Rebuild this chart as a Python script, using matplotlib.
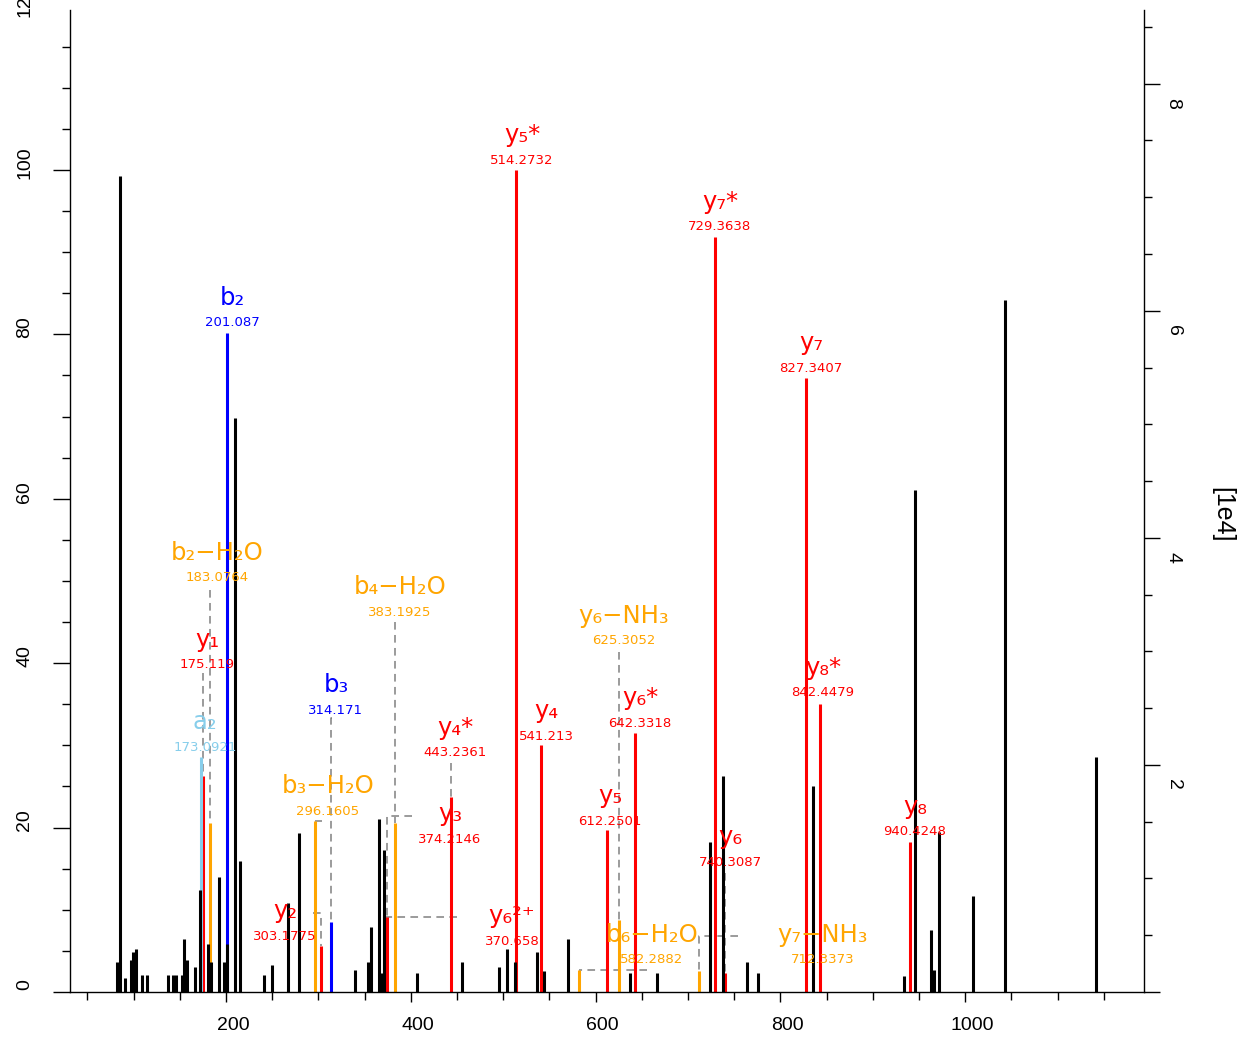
import matplotlib
matplotlib.use("Agg")
from matplotlib import pyplot as plt
from matplotlib.ticker import MultipleLocator
from matplotlib.transforms import ScaledTranslation, blended_transform_factory

# unassigned peaks: m/z and relative intensity (%)
peak_mz = [82.4, 85.3, 90.7, 96.9, 99.7, 102.3, 108.8, 114.2, 137.6, 143.0,
           145.9, 152.1, 154.5, 157.5, 166.5, 171.9, 180.8, 183.4, 192.4, 197.8,
           200.8, 209.7, 215.1, 241.1, 250.1, 267.4, 279.0, 339.6, 354.0, 356.9,
           365.6, 368.5, 371.3, 406.4, 455.1, 495.8, 504.4, 512.8, 536.3, 544.5,
           570.5, 637.2, 666.1, 723.8, 737.6, 764.2, 775.4, 835.6, 934.1, 946.0,
           962.7, 966.2, 972.0, 1008.8, 1043.1, 1141.6]
peak_int = [3.6, 99.3, 1.7, 3.9, 4.9, 5.2, 2.1, 2.1, 2.1, 2.1,
            2.1, 2.1, 6.5, 3.9, 3.0, 12.4, 5.9, 3.6, 14.0, 3.6,
            5.8, 69.8, 15.9, 2.1, 3.3, 10.8, 19.3, 2.7, 3.6, 7.9,
            21.1, 2.3, 17.3, 2.3, 3.6, 3.0, 5.2, 3.6, 4.9, 2.6,
            6.5, 2.3, 2.3, 18.2, 26.3, 3.6, 2.3, 25.1, 2.0, 61.1,
            7.5, 2.7, 19.5, 11.7, 84.2, 28.6]

# assigned fragment ions
ion_names = ["y₅*", "y₇*", "b₂", "y₇", "y₈*", "y₆*", "y₄", "y₄*", "y₃", "y₅",
             "y₆", "y₈", "y₂", "y₆²⁺", "y₁", "a₂", "b₂−H₂O", "b₄−H₂O", "b₃",
             "b₃−H₂O", "y₆−NH₃", "b₆−H₂O", "y₇−NH₃"]
ion_mz = [514.2732, 729.3638, 201.087, 827.3407, 842.4479, 642.3318, 541.213,
          443.2361, 374.2146, 612.2501, 740.3087, 940.4248, 303.1775, 370.658,
          175.119, 173.0921, 183.0764, 383.1925, 314.171, 296.1605, 625.3052,
          582.2882, 712.3373]
ion_int = [100.0, 91.8, 80.2, 74.7, 35.0, 31.5, 30.0, 23.7, 9.1, 19.7,
           2.3, 18.2, 5.6, 9.1, 26.3, 28.6, 20.5, 20.5, 8.5, 20.8,
           8.8, 2.7, 2.6]

# base peak intensity in units of 1e4 (right axis)
base_int = 7.24

# label layout: centre of the m/z text, in data units
label_x = [520.3, 734.6, 206.5, 833.1, 846.1, 648.1, 546.3, 447.8, 442.4, 615.6,
           745.5, 945.7, 263.8, 509.5, 179.4, 177.3, 190.3, 388.3, 319.0, 310.4,
           630.7, 661.0, 846.1]
label_y = [101.2, 93.1, 81.4, 75.9, 36.4, 32.7, 31.1, 29.1, 18.6, 20.8,
           15.8, 19.5, 6.8, 6.2, 39.8, 29.8, 50.4, 46.2, 34.3, 22.0,
           42.7, 3.9, 3.9]
# dashed connector: level of the horizontal leg and where it ends
conn_y = [None, None, None, None, None, None, None, 27.9, 21.4, None,
          14.5, None, 9.6, 9.1, 38.8, None, 48.9, 45.0, 33.3, 20.8,
          41.4, 2.7, 6.8]
conn_x = [None, None, None, None, None, None, None, 443.2, 401.3, None,
          740.3, None, 294.2, 450.0, 175.1, None, 183.1, 383.2, 314.2, 303.9,
          625.3, 655.6, 754.1]


def ion_color(name):
    if "−" in name:
        return "orange"
    if name.startswith("b"):
        return "blue"
    if name.startswith("a"):
        return "skyblue"
    return "red"


W, H = 1238, 1039
fig = plt.figure(figsize=(W / 100, H / 100), dpi=100)
ax = fig.add_axes([70 / W, 47 / H, 1074 / W, 982 / H])
ytop = 119.46
ax.set_xlim(31.2, 1193.5)
ax.set_ylim(0, ytop)

ion_colors = [ion_color(n) for n in ion_names]

# connectors
for i in range(len(ion_names)):
    if conn_y[i] is None:
        continue
    ax.plot([conn_x[i], ion_mz[i], ion_mz[i]], [conn_y[i], conn_y[i], ion_int[i]],
            color="#808080", lw=1.1, ls=(0, (5, 3.5)), zorder=1)

ax.vlines(ion_mz, 0, ion_int, colors=ion_colors, lw=2.2, zorder=2)
ax.vlines(peak_mz, 0, peak_int, colors="black", lw=2.2, zorder=3)

name_off = ScaledTranslation(0, 25 / 100, fig.dpi_scale_trans)
for i, name in enumerate(ion_names):
    c = ion_colors[i]
    ax.text(label_x[i], label_y[i], str(ion_mz[i]), color=c, fontsize=9.5,
            ha="center", va="center", zorder=5, family="DejaVu Sans")
    ax.text(label_x[i], label_y[i], name, color=c, fontsize=17.5,
            ha="center", va="center", zorder=5, family="DejaVu Sans",
            transform=ax.transData + name_off)

# right axis in absolute intensity
ax2 = ax.twinx()
ax2.set_ylim(0, ytop * base_int / 100)

for s in ["top", "right"]:
    ax.spines[s].set_visible(False)
for s in ["top", "left", "bottom"]:
    ax2.spines[s].set_visible(False)
for a in (ax, ax2):
    for s in a.spines.values():
        s.set_linewidth(1.0)

ax.xaxis.set_major_locator(MultipleLocator(200))
ax.xaxis.set_minor_locator(MultipleLocator(50))
ax.yaxis.set_major_locator(MultipleLocator(20))
ax.yaxis.set_minor_locator(MultipleLocator(5))
ax2.yaxis.set_major_locator(MultipleLocator(2))
ax2.yaxis.set_minor_locator(MultipleLocator(0.5))

ax.tick_params(axis="x", which="major", length=7.2, width=1, labelbottom=False)
ax.tick_params(axis="x", which="minor", length=5.8, width=1)
ax.tick_params(axis="y", which="major", length=12, width=1, labelleft=False)
ax.tick_params(axis="y", which="minor", length=5.5, width=1)
ax2.tick_params(axis="y", which="major", length=11.5, width=1, labelright=False)
ax2.tick_params(axis="y", which="minor", length=5.8, width=1)

tick_font = dict(family="Liberation Sans", fontsize=14, color="black")
xt = blended_transform_factory(ax.transData, ax.transAxes)
for v in range(200, 1001, 200):
    ax.text(v, 0, str(v), ha="center", va="center", clip_on=False,
            transform=xt + ScaledTranslation(7 / 100, -33 / 100, fig.dpi_scale_trans),
            **tick_font)

yt = ax.get_yaxis_transform()
for v in range(0, 101, 20):
    ax.text(-45 / 1074, v, str(v), rotation=90, ha="center", va="center",
            clip_on=False,
            transform=yt + ScaledTranslation(0, 7 / 100, fig.dpi_scale_trans),
            **tick_font)
# top label, cut by the figure edge as in the original
fig.text(25 / W, 1 - 1 / H, "120", rotation=90, ha="center", va="center", **tick_font)

yt2 = ax2.get_yaxis_transform()
for v in range(2, 9, 2):
    ax2.text(1103 / 1074, v, str(v), rotation=-90, ha="center", va="center",
             clip_on=False,
             transform=yt2 + ScaledTranslation(0, -19.5 / 100, fig.dpi_scale_trans),
             **tick_font)

fig.text(1222 / W, 1 - 515 / H, "[1e4]", rotation=-90, ha="center", va="center",
         family="Liberation Sans", fontsize=18, color="black")

fig.savefig("out.png", dpi=100)
